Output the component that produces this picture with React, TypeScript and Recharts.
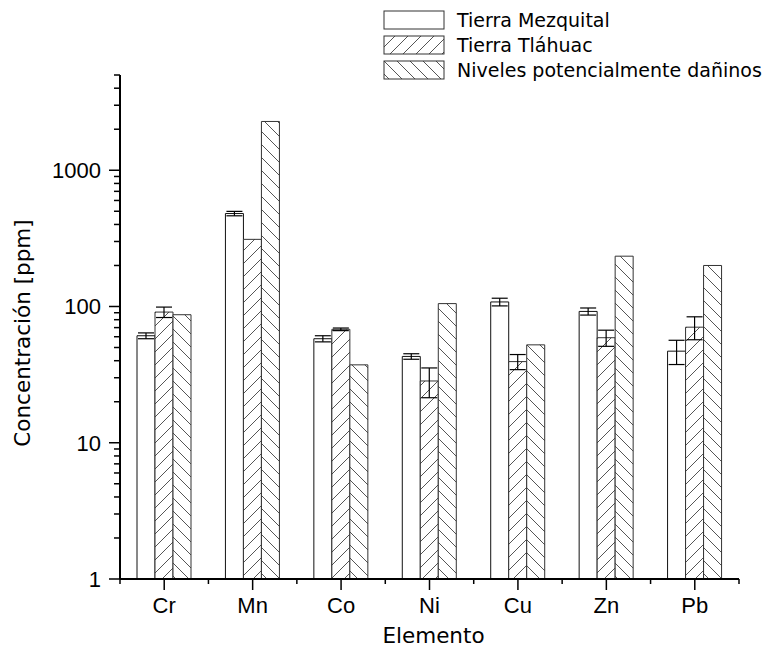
import { Bar, BarChart, ErrorBar, Label, XAxis, YAxis } from "recharts";

const elementos = ["Cr", "Mn", "Co", "Ni", "Cu", "Zn", "Pb"];
const mezquital = [61, 481, 58, 43, 108, 92, 47];
const mezquitalErr = [3, 18, 3, 2, 7, 5.5, 9.5];
const tlahuac = [91, 311, 68, 28.4, 39.4, 59, 70.5];
const tlahuacErr = [8, null, 1.5, 7, 5, 8, 13.5];
const daninos = [87, 2280, 37.3, 105, 52.3, 234, 200];

const yTicks = [
  1, 2, 3, 4, 5, 6, 7, 8, 9,
  10, 20, 30, 40, 50, 60, 70, 80, 90,
  100, 200, 300, 400, 500, 600, 700, 800, 900,
  1000, 2000, 3000, 4000, 5000,
];
const majorTicks = [1, 10, 100, 1000];

const data = elementos.map((el, i) => ({
  el,
  mezquital: mezquital[i],
  mezquitalErr: mezquitalErr[i],
  tlahuac: tlahuac[i],
  tlahuacErr: tlahuacErr[i],
  daninos: daninos[i],
}));

const W = 769;
const H = 652;
const margin = { top: 75, right: 30, left: 0, bottom: 0 };
const yAxisWidth = 120;
const plotWidth = W - margin.left - margin.right - yAxisWidth;
const band = plotWidth / elementos.length;
const tickFont = "'Liberation Sans', Arial, sans-serif";
const titleFont = "'DejaVu Sans', Verdana, sans-serif";

function YTick({ x, y, payload }: any) {
  const major = majorTicks.includes(payload.value);
  return (
    <g>
      <line x1={x - (major ? 11 : 6)} x2={x} y1={y} y2={y} stroke="#000" strokeWidth={1.5} />
      {major && (
        <text x={x - 19} y={y} dy="0.36em" textAnchor="end" fontSize={22} fill="#000">
          {payload.value}
        </text>
      )}
    </g>
  );
}

function XTick({ x, y, payload, index }: any) {
  return (
    <g>
      <line x1={x} x2={x} y1={y} y2={y + 11} stroke="#000" strokeWidth={1.5} />
      <line x1={x - band / 2} x2={x - band / 2} y1={y} y2={y + 5} stroke="#000" strokeWidth={1.5} />
      {index === elementos.length - 1 && (
        <line x1={x + band / 2} x2={x + band / 2} y1={y} y2={y + 5} stroke="#000" strokeWidth={1.5} />
      )}
      <text x={x} y={y + 34} textAnchor="middle" fontSize={22} fill="#000">
        {payload.value}
      </text>
    </g>
  );
}

function YTitle({ viewBox }: any) {
  const cx = viewBox.x + 22;
  const cy = viewBox.y + viewBox.height / 2 + 6;
  return (
    <text
      x={cx}
      y={cy}
      transform={`rotate(-90 ${cx} ${cy})`}
      textAnchor="middle"
      dominantBaseline="central"
      fontFamily={titleFont}
      fontSize={21.5}
      fill="#000"
    >
      Concentración [ppm]
    </text>
  );
}

function XTitle({ viewBox }: any) {
  return (
    <text
      x={viewBox.x + viewBox.width / 2 + 4}
      y={viewBox.y + viewBox.height - 9}
      textAnchor="middle"
      fontFamily={titleFont}
      fontSize={21.5}
      fill="#000"
    >
      Elemento
    </text>
  );
}

const legendItems = [
  { name: "Tierra Mezquital", fill: "#fff" },
  { name: "Tierra Tláhuac", fill: "url(#hatchFwd)" },
  { name: "Niveles potencialmente dañinos", fill: "url(#hatchBack)" },
];

function HatchDefs() {
  return (
    <defs>
      <pattern id="hatchFwd" patternUnits="userSpaceOnUse" width="13" height="13">
        <rect width="13" height="13" fill="#fff" />
        <path d="M0,13 L13,0 M-2,2 L2,-2 M11,15 L15,11" stroke="#555" strokeWidth="1" />
      </pattern>
      <pattern id="hatchBack" patternUnits="userSpaceOnUse" width="13" height="13">
        <rect width="13" height="13" fill="#fff" />
        <path d="M0,0 L13,13 M-2,11 L2,15 M11,-2 L15,2" stroke="#555" strokeWidth="1" />
      </pattern>
    </defs>
  );
}

export default function App() {
  return (
    <div style={{ position: "absolute", left: 0, top: 0, width: W, height: H, fontFamily: tickFont, background: "#fff" }}>
      <BarChart width={W} height={H} data={data} margin={margin} barSize={18} barGap={0}>
        <HatchDefs />
        <XAxis
          dataKey="el"
          height={73}
          interval={0}
          tickSize={0}
          tickMargin={0}
          tickLine={false}
          axisLine={{ stroke: "#000", strokeWidth: 2 }}
          tick={<XTick />}
        >
          <Label content={<XTitle />} />
        </XAxis>
        <YAxis
          scale="log"
          domain={[1, 5000]}
          ticks={yTicks}
          interval={0}
          width={yAxisWidth}
          tickSize={0}
          tickMargin={0}
          tickLine={false}
          allowDataOverflow
          axisLine={{ stroke: "#000", strokeWidth: 2 }}
          tick={<YTick />}
        >
          <Label content={<YTitle />} />
        </YAxis>
        <Bar dataKey="mezquital" fill="#fff" stroke="#111" strokeWidth={1} isAnimationActive={false}>
          <ErrorBar dataKey="mezquitalErr" width={8} stroke="#000" strokeWidth={1.2} direction="y" />
        </Bar>
        <Bar dataKey="tlahuac" fill="url(#hatchFwd)" stroke="#333" strokeWidth={1} isAnimationActive={false}>
          <ErrorBar dataKey="tlahuacErr" width={8} stroke="#000" strokeWidth={1.2} direction="y" />
        </Bar>
        <Bar dataKey="daninos" fill="url(#hatchBack)" stroke="#333" strokeWidth={1} isAnimationActive={false} />
      </BarChart>
      <div style={{ position: "absolute", left: 383, top: 7, fontFamily: titleFont }}>
        {legendItems.map((item) => (
          <div key={item.name} style={{ display: "flex", alignItems: "center", height: 25 }}>
            <svg width={62} height={20} style={{ display: "block" }}>
              <rect x={1} y={1} width={60} height={18} fill={item.fill} stroke="#333" strokeWidth={1} />
            </svg>
            <span style={{ marginLeft: 12, fontSize: 19, color: "#000", whiteSpace: "nowrap" }}>{item.name}</span>
          </div>
        ))}
      </div>
    </div>
  );
}
